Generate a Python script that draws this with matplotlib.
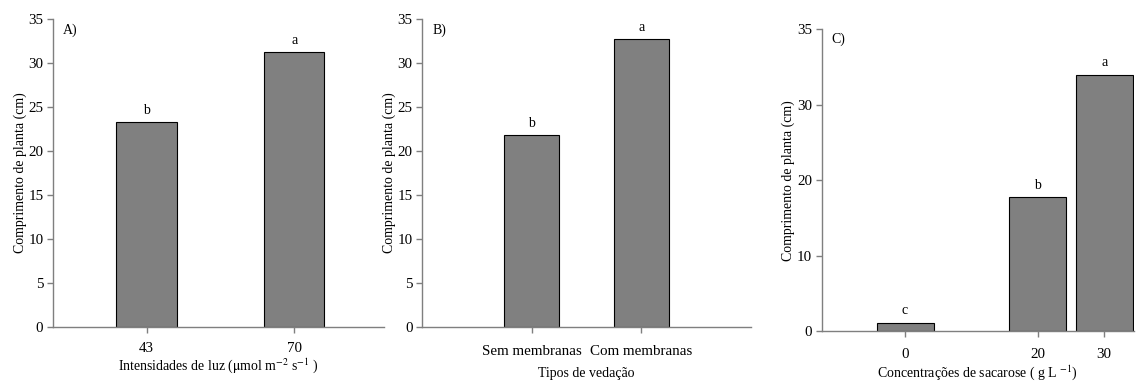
import matplotlib
matplotlib.use("Agg")
import matplotlib.pyplot as plt

plt.rcParams["font.family"] = ["Liberation Serif", "DejaVu Serif"]
plt.rcParams["mathtext.fontset"] = "stix"

# Panel A: light intensity
light_levels = [43, 70]
light_length = [23.25, 31.2]
light_letters = ["b", "a"]

# Panel B: sealing type
seal_types = ["Sem membranas", "Com membranas"]
seal_length = [21.8, 32.7]
seal_letters = ["b", "a"]

# Panel C: sucrose concentration
sucrose_levels = [0, 20, 30]
sucrose_length = [1.1, 17.7, 34.0]
sucrose_letters = ["c", "b", "a"]
sucrose_yticks = [0, 10, 20, 30, 40]
sucrose_yticklabels = ["0", "10", "20", "30", "35"]

AX_GRAY = "#7f7f7f"
BAR_GRAY = "#808080"
TICK_FS = 10.8
LAB_FS = 10.0

fig = plt.figure(figsize=(11.39, 3.82), dpi=100)
W, H = 1139.0, 382.0


def add_axes(left, right, top, bottom):
    return fig.add_axes([left / W, 1 - bottom / H, (right - left) / W, (bottom - top) / H])


def style(ax):
    for s in ("top", "right"):
        ax.spines[s].set_visible(False)
    for s in ("left", "bottom"):
        ax.spines[s].set_color(AX_GRAY)
        ax.spines[s].set_linewidth(1.0)
    ax.tick_params(axis="both", direction="out", length=4, width=1.0,
                   color=AX_GRAY, labelsize=TICK_FS, pad=3)


def letters(ax, xs, ys, labs, off):
    for x, y, t in zip(xs, ys, labs):
        ax.text(x, y + off, t, ha="center", va="bottom", fontsize=LAB_FS)


# ---- A ----
axA = add_axes(53, 384, 19, 326.7)
axA.bar(light_levels, light_length, width=11, color=BAR_GRAY, edgecolor="black", linewidth=0.8)
axA.set_xlim(25.9, 86.4)
axA.set_ylim(0, 35)
axA.set_yticks([0, 5, 10, 15, 20, 25, 30, 35])
axA.set_xticks(light_levels)
style(axA)
axA.tick_params(axis="x", pad=7)
letters(axA, light_levels, light_length, light_letters, 0.6)
axA.text(0.03, 0.985, "A)", transform=axA.transAxes, fontsize=LAB_FS, va="top", ha="left")
axA.set_ylabel("Comprimento de planta (cm)", fontsize=LAB_FS, labelpad=1)
axA.set_xlabel(r"Intensidades de luz ($\mathrm{\mu}$mol m$^{-2}$ s$^{-1}$ )", fontsize=LAB_FS, labelpad=1)

# ---- B ----
axB = add_axes(422.3, 751, 19, 326.7)
xb = [1, 2]
axB.bar(xb, seal_length, width=0.5, color=BAR_GRAY, edgecolor="black", linewidth=0.8)
axB.set_xlim(0, 3)
axB.set_ylim(0, 35)
axB.set_yticks([0, 5, 10, 15, 20, 25, 30, 35])
axB.set_xticks(xb)
axB.set_xticklabels(seal_types, fontsize=LAB_FS)
style(axB)
axB.tick_params(axis="x", pad=9)
letters(axB, xb, seal_length, seal_letters, 0.6)
axB.text(0.03, 0.985, "B)", transform=axB.transAxes, fontsize=LAB_FS, va="top", ha="left")
axB.set_ylabel("Comprimento de planta (cm)", fontsize=LAB_FS, labelpad=1)
axB.set_xlabel("Tipos de vedação", fontsize=LAB_FS, labelpad=7)

# ---- C ----
axC = add_axes(821.7, 1134, 29.3, 331)
axC.bar(sucrose_levels, sucrose_length, width=8.6, color=BAR_GRAY, edgecolor="black", linewidth=0.8)
axC.set_xlim(-12.56, 34.5)
axC.set_ylim(0, 40)
axC.set_yticks(sucrose_yticks)
axC.set_yticklabels(sucrose_yticklabels)
axC.set_xticks(sucrose_levels)
style(axC)
axC.tick_params(axis="x", pad=8)
letters(axC, sucrose_levels, sucrose_length, sucrose_letters, 0.7)
axC.text(0.03, 0.99, "C)", transform=axC.transAxes, fontsize=LAB_FS, va="top", ha="left")
axC.set_ylabel("Comprimento de planta (cm)", fontsize=LAB_FS, labelpad=1)
axC.set_xlabel(r"Concentrações de sacarose ( g L $^{-1}$)", fontsize=LAB_FS, labelpad=2)

fig.savefig("out.png", dpi=100)
